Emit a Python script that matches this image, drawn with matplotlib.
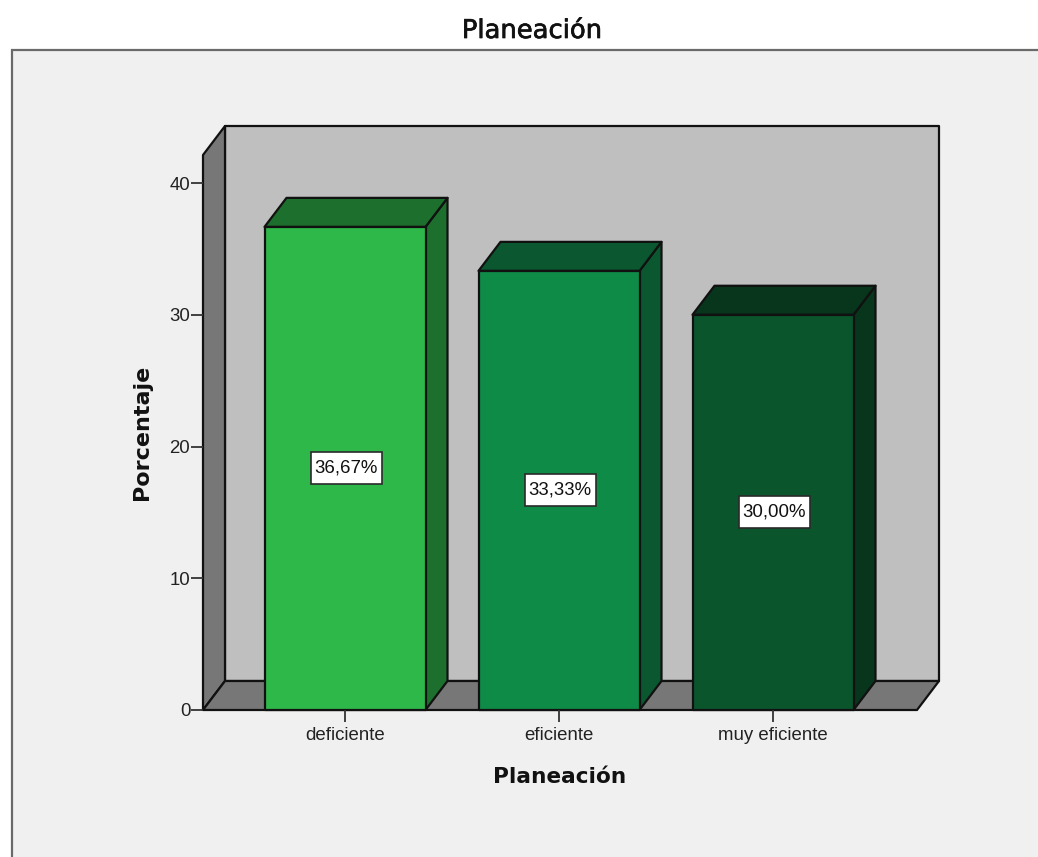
import matplotlib
matplotlib.use("Agg")
import matplotlib.pyplot as plt
import matplotlib.patheffects as pe
from matplotlib.patches import Polygon, Rectangle

categories = ["deficiente", "eficiente", "muy eficiente"]
percentages = [36.67, 33.33, 30.00]
labels = ["36,67%", "33,33%", "30,00%"]
y_ticks = [0, 10, 20, 30, 40]

front_colors = ["#2fb84a", "#0f8b48", "#0a552c"]
side_colors = ["#1d6f2e", "#0a5730", "#07361c"]

W, H = 1038, 857
plt.rcParams["font.family"] = ["Liberation Sans", "DejaVu Sans"]


def main():
    fig = plt.figure(figsize=(W / 100, H / 100), dpi=100, facecolor="white")

    # outer panel, runs off the right and bottom of the picture
    fig.patches.append(Rectangle((12 / W, -0.02), 1.02, 1 - 50.5 / H + 0.02,
                                 transform=fig.transFigure, facecolor="#f0f0f0",
                                 edgecolor="#6a6a6a", linewidth=1.6, zorder=-1))

    ax = fig.add_axes([203 / W, 1 - 710 / H, 714 / W, 555 / H])
    ax.patch.set_visible(False)
    ax.set_xlim(-142 / 214, 2 + 144 / 214)
    ax.set_ylim(0, 555 / 13.175)
    x0, x1 = ax.get_xlim()
    y1 = ax.get_ylim()[1]

    # depth of the 3d look, in data units
    dx = 22 / 214
    dy = 29 / 13.175
    width = 161 / 214
    line = dict(edgecolor="#111111", linewidth=1.6, joinstyle="round", clip_on=False)

    # walls and floor
    ax.add_patch(Polygon([(x0 + dx, dy), (x1 + dx, dy), (x1 + dx, y1 + dy), (x0 + dx, y1 + dy)],
                         facecolor="#bfbfbf", **line))
    ax.add_patch(Polygon([(x0, 0), (x0 + dx, dy), (x0 + dx, y1 + dy), (x0, y1)],
                         facecolor="#777777", **line))
    ax.add_patch(Polygon([(x0, 0), (x1, 0), (x1 + dx, dy), (x0 + dx, dy)],
                         facecolor="#777777", **line))

    # label box size, in data units
    box_w = 71 / 214
    box_h = 32 / 13.175

    for i, val in enumerate(percentages):
        left = i - width / 2
        right = i + width / 2
        ax.add_patch(Polygon([(right, 0), (right + dx, dy), (right + dx, val + dy), (right, val)],
                             facecolor=side_colors[i], **line))
        ax.add_patch(Polygon([(left, val), (right, val), (right + dx, val + dy), (left + dx, val + dy)],
                             facecolor=side_colors[i], **line))
        ax.add_patch(Rectangle((left, 0), width, val, facecolor=front_colors[i], **line))
        cx = i + 0.005
        ax.add_patch(Rectangle((cx - box_w / 2, val / 2 - box_h / 2), box_w, box_h,
                               facecolor="white", edgecolor="#2a2a2a", linewidth=1.2, zorder=4))
        ax.text(cx, val / 2, labels[i], ha="center", va="center", fontsize=13.4,
                color="#111111", zorder=5)

    for s in ax.spines.values():
        s.set_visible(False)
    ax.set_xticks(range(len(categories)))
    ax.set_xticklabels(categories)
    ax.set_yticks(y_ticks)
    ax.tick_params(axis="x", length=8.6, width=1.3, color="#333333", pad=3.6,
                   labelsize=13.4, labelcolor="#222222")
    ax.tick_params(axis="y", length=8.6, width=1.3, color="#333333", pad=0.5,
                   labelsize=13.4, labelcolor="#222222")

    # DejaVu bold is about as wide as the spaced out bold in the original
    ax.set_xlabel("Planeación", fontsize=15.6, fontweight="bold", family="DejaVu Sans",
                  color="#111111")
    ax.xaxis.set_label_coords((560 - 203) / 714, -(777 - 710) / 555)
    ax.xaxis.label.set_verticalalignment("center")
    ax.set_ylabel("Porcentaje", fontsize=16, fontweight="bold", family="DejaVu Sans",
                  color="#111111")
    ax.yaxis.set_label_coords(-(203 - 142) / 714, (710 - 432.5) / 555)
    ax.yaxis.label.set_verticalalignment("center")

    title = fig.text(532 / W, 1 - 31 / H, "Planeación", fontsize=18.6, ha="center", va="center",
                     family="DejaVu Sans", color="#111111")
    title.set_path_effects([pe.withStroke(linewidth=0.5, foreground="#111111")])

    fig.savefig("out.png", dpi=100, facecolor=fig.get_facecolor())


if __name__ == "__main__":
    main()
